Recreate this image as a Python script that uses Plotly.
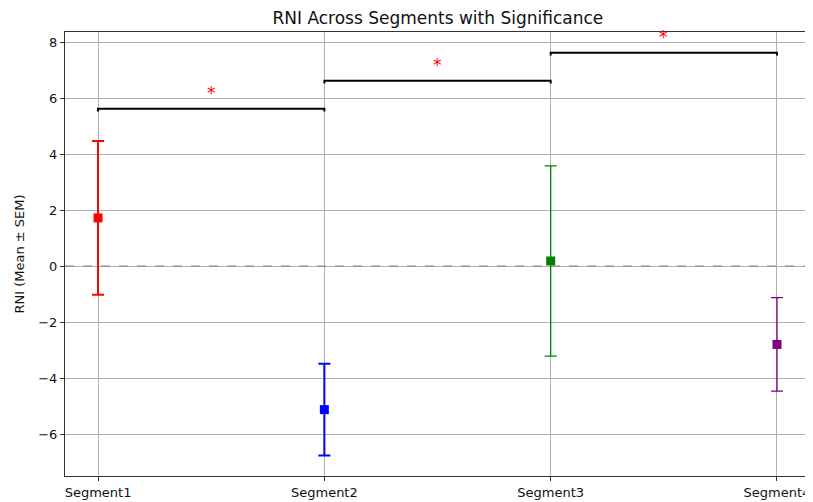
import plotly.graph_objects as go

segments = ["Segment1", "Segment2", "Segment3", "Segment4"]
means = [1.72, -5.13, 0.18, -2.80]
sems = [2.75, 1.64, 3.40, 1.67]
colors = ["red", "blue", "green", "purple"]
err_widths = [2, 2, 1.3, 1.3]
pairs = [(0, 1), (1, 2), (2, 3)]
bracket_y = [5.62, 6.62, 7.62]
star_labels = ["*", "*", "*"]

fig = go.Figure()
xs = list(range(len(segments)))
for i, seg in enumerate(segments):
    fig.add_trace(go.Scatter(
        x=[xs[i]], y=[means[i]], mode="markers",
        marker=dict(symbol="square", size=9, color=colors[i]),
        error_y=dict(type="data", array=[sems[i]], visible=True,
                     color=colors[i], thickness=err_widths[i], width=6),
        showlegend=False, name=seg))

h = 0.1
for (a, b), yb, lab in zip(pairs, bracket_y, star_labels):
    fig.add_trace(go.Scatter(
        x=[xs[a], xs[a], xs[b], xs[b]], y=[yb - h, yb, yb, yb - h],
        mode="lines", line=dict(color="black", width=2),
        showlegend=False, hoverinfo="skip", cliponaxis=False))
    fig.add_annotation(x=(xs[a] + xs[b]) / 2, y=yb + 0.55, text=lab,
                       showarrow=False, font=dict(color="red", size=17),
                       xref="x", yref="y")

fig.add_shape(type="line", xref="paper", yref="y", x0=0, x1=1, y0=0, y1=0,
              line=dict(color="gray", width=1, dash="dash"))

fig.update_layout(
    width=805, height=494,
    margin=dict(l=57, r=5, t=24, b=26, autoexpand=False),
    paper_bgcolor="white", plot_bgcolor="white",
    font=dict(family="DejaVu Sans", size=13, color="#111111"),
    title=dict(text="RNI Across Segments with Significance", x=0.534, xanchor="center",
               y=0.98, yanchor="middle", font=dict(size=17)),
    xaxis=dict(tickmode="array", tickvals=xs, ticktext=segments, automargin=False,
               range=[-0.146, 3.137], showgrid=True, gridcolor="#b0b0b0", gridwidth=1,
               showline=True, linecolor="#333333", linewidth=1.2, mirror=True,
               ticks="outside", ticklen=4, tickcolor="#333333", zeroline=False,
               tickfont=dict(size=13)),
    yaxis=dict(range=[-7.5, 8.36], tickvals=[-6, -4, -2, 0, 2, 4, 6, 8], automargin=False,
               ticktext=["\u22126", "\u22124", "\u22122", "0", "2", "4", "6", "8"],
               showgrid=True, gridcolor="#b0b0b0", gridwidth=1,
               showline=True, linecolor="#333333", linewidth=1.2, mirror=True,
               ticks="outside", ticklen=4, tickcolor="#333333", zeroline=False,
               tickfont=dict(size=13),
               title=dict(text="RNI (Mean \u00b1 SEM)", standoff=10, font=dict(size=13))),
)

fig.write_html("out.html")
